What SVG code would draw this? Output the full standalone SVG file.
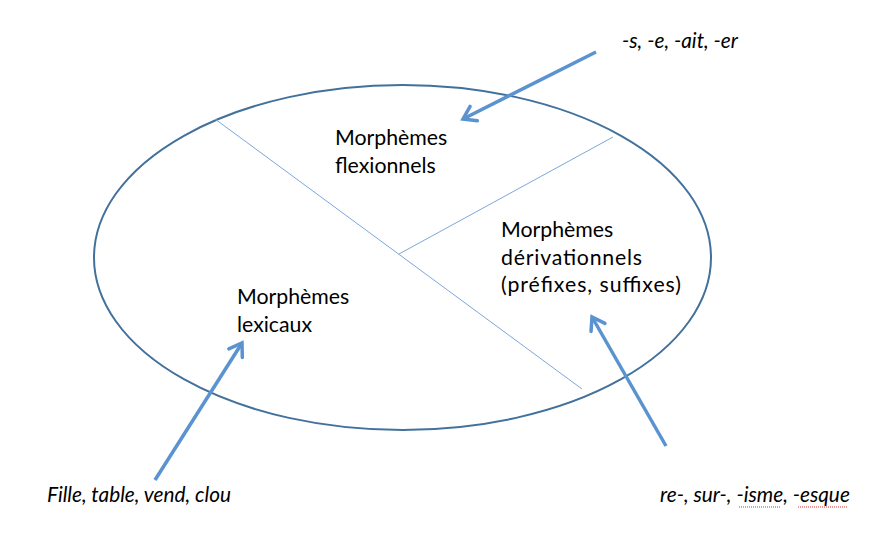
<svg xmlns="http://www.w3.org/2000/svg" width="874" height="533" viewBox="0 0 874 533">
<style>
.lbl{font-family:"Lato","Liberation Sans",sans-serif;font-size:21.3px;fill:#000}
.ex{font-family:"Lato","Liberation Sans",sans-serif;font-size:20.8px;font-style:italic;fill:#000}
.div{stroke:#7BA7DA;stroke-width:1;fill:none}
.arr{stroke:#5B93D0;stroke-width:3.5;fill:none;marker-end:url(#ah)}
</style>
<defs>
<marker id="ah" markerUnits="userSpaceOnUse" markerWidth="30" markerHeight="30" refX="0" refY="0" viewBox="-15 -15 30 30" orient="auto" overflow="visible">
<path d="M-12,-8 L0,0 L-12,8" fill="none" stroke="#5B93D0" stroke-width="3.5" stroke-linecap="round" stroke-linejoin="miter"/>
</marker>
</defs>
<rect width="874" height="533" fill="#fff"/>
<g id="ellipse">
<ellipse cx="402.5" cy="257.5" rx="308.5" ry="172.5" fill="none" stroke="#41719C" stroke-width="2"/>
</g>
<g id="dividers">
<line class="div" x1="215" y1="119" x2="582" y2="389"/>
<line class="div" x1="399" y1="254" x2="613" y2="137"/>
</g>
<g id="flexionnels">
<text class="lbl" x="335" y="145">Morphèmes</text>
<text class="lbl" x="335" y="172.5">flexionnels</text>
</g>
<g id="derivationnels">
<text class="lbl" x="501" y="237">Morphèmes</text>
<text class="lbl" x="501" y="264.5" textLength="141" lengthAdjust="spacing">dérivationnels</text>
<text class="lbl" x="501" y="292" textLength="180" lengthAdjust="spacing">(préfixes, suffixes)</text>
</g>
<g id="lexicaux">
<text class="lbl" x="237" y="304">Morphèmes</text>
<text class="lbl" x="237" y="331.5">lexicaux</text>
</g>
<g id="ex-flex">
<text class="ex" x="622" y="48">-s, -e, -ait, -er</text>
</g>
<g id="ex-lex">
<text class="ex" x="47" y="502">Fille, table, vend, clou</text>
</g>
<g id="ex-deriv">
<text class="ex" x="660" y="502">re-, sur-, -isme, -esque</text>
<line x1="739" y1="507" x2="781" y2="507" stroke="#E03030" stroke-width="1" stroke-dasharray="1,1"/>
<line x1="798" y1="507" x2="848" y2="507" stroke="#E03030" stroke-width="1" stroke-dasharray="1,1"/>
</g>
<g id="connectors">
<line class="arr" x1="596" y1="52" x2="463" y2="119"/>
<line class="arr" x1="155" y1="480" x2="242" y2="343"/>
<line class="arr" x1="666" y1="446" x2="592" y2="317"/>
</g>
</svg>
